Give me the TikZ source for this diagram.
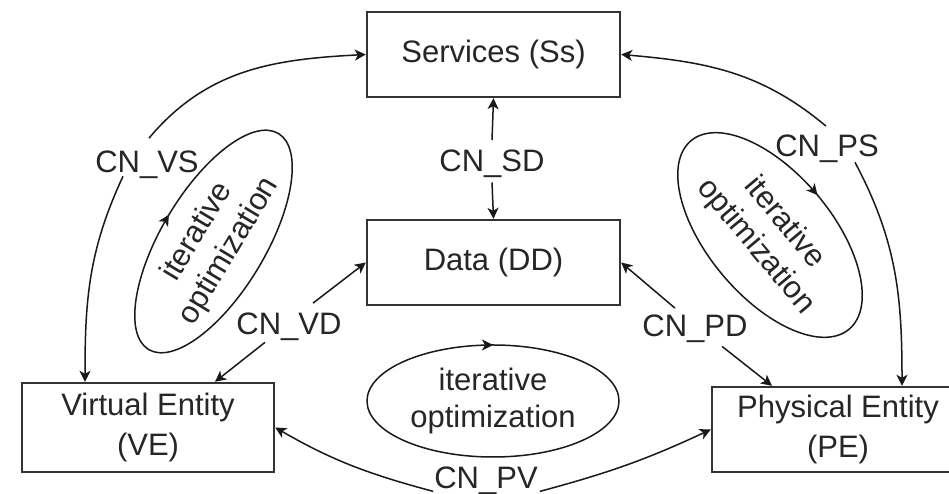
\documentclass[tikz,border=0pt]{standalone}
\usepackage{fontspec}
\setmainfont{Liberation Sans}
\usetikzlibrary{shapes.geometric,arrows.meta,decorations.markings}
\begin{document}
\begin{tikzpicture}[x=1pt,y=1pt,
  txt/.style={font=\fontsize{31}{40}\selectfont, text=black!85},
  box/.style={txt, draw=black!80, line width=2.4pt, inner sep=0pt, align=center},
  lbl/.style={txt, inner sep=0pt, anchor=base},
  conn/.style={draw=black!90, line width=1.5pt, -{Stealth[length=11pt,width=11pt,inset=3pt]}},
  ell/.style={draw=black!90, line width=1.5pt, ellipse, inner sep=0pt, align=center,
     font=\fontsize{31}{37}\selectfont, text=black!85,
     postaction={decorate},
     decoration={markings, mark=at position 0.25 with {\arrowreversed{Stealth[length=11pt,width=11pt,inset=3pt]}}}}
]
\useasboundingbox (0,0) rectangle (949,494);
\clip (0,0) rectangle (949,494);
\fill[white] (0,0) rectangle (949,494);

% boxes
\node[box, minimum width=253pt, minimum height=85pt] (S) at (493.5,439.5) {Services (Ss)};
\node[box, minimum width=253pt, minimum height=85pt] (D) at (493.5,231.5) {Data (DD)};
\node[box, minimum width=252pt, minimum height=89pt] (VE) at (148,66.5) {Virtual Entity\\(VE)};
\node[box, minimum width=252pt, minimum height=85pt] (PE) at (838,64.5) {Physical Entity\\(PE)};

% labels
\node[lbl] (vs) at (147,321) {CN\_VS};
\node[lbl] (sd) at (492,322) {CN\_SD};
\node[lbl] (ps) at (827,337) {CN\_PS};
\node[lbl] (vd) at (289,159) {CN\_VD};
\node[lbl] (pd) at (695,157) {CN\_PD};
\node[lbl] (pv) at (486,5) {CN\_PV};

% ellipses
\node[ell, rotate=59, minimum width=252pt, minimum height=104pt] (e1) at (213.5,252.5) {iterative\\optimization};
\node[ell, rotate=-50, minimum width=246pt, minimum height=124pt] (e2) at (770,259) {iterative\\optimization};
\node[ell, minimum width=252pt, minimum height=112pt] (e3) at (493,93) {iterative\\optimization};

% connectors
\draw[conn] ([yshift=10pt]sd.north) -- (S.south);
\draw[conn] ([yshift=-4pt]sd.south) -- (D.north);

\draw[conn] ([shift={(2pt,13pt)}]vs.north) to[out=50,in=183] (S.west);
\draw[conn] ([shift={(-24pt,3pt)}]vs.south) to[out=-115,in=90] ([xshift=-63pt]VE.north);

\draw[conn] ([shift={(-1pt,9pt)}]ps.north) to[out=140,in=-5] (S.east);
\draw[conn] ([shift={(28pt,1pt)}]ps.south) to[out=-62,in=90] ([xshift=64pt]PE.north);

\draw[conn] ([shift={(24pt,10pt)}]vd.north) -- (D.west);
\draw[conn] ([shift={(-24pt,-1pt)}]vd.south) -- ([xshift=67pt]VE.north);

\draw[conn] ([shift={(-20pt,7pt)}]pd.north) -- (D.east);
\draw[conn] ([shift={(27pt,-3pt)}]pd.south) -- ([xshift=-66pt]PE.north);

\draw[conn] ([shift={(-1pt,4pt)}]pv.south west) to[out=165,in=-30] (VE.east);
\draw[conn] ([shift={(2pt,4pt)}]pv.south east) to[out=15,in=-155] (PE.west);
\end{tikzpicture}
\end{document}
